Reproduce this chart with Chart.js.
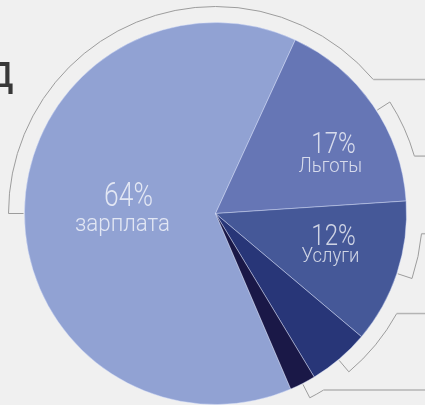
<!DOCTYPE html>
<html lang="ru">
<head>
<meta charset="utf-8">
<title>Структура расходов</title>
<script src="https://cdn.jsdelivr.net/npm/chart.js@4.4.0/dist/chart.umd.min.js"></script>
<style>
    html, body { margin: 0; padding: 0; background: #f0f0f0; }
    #wrap { position: relative; width: 425px; height: 405px; overflow: hidden; }
</style>
</head>
<body>
<div id="wrap"><canvas id="graficoPizza" width="425" height="405"></canvas></div>
<script>
// Dados (fatias no sentido horário a partir de "зарплата")
const categorias = ['зарплата', 'Льготы', 'Услуги', '', ''];
const valores = [63.3, 17.1, 12.2, 5.2, 2.2];
const rotulosPercentuais = ['64%', '17%', '12%'];
const cores = ['#91a2d3', '#6676b5', '#455898', '#283678', '#1a1847'];

// Posições dos textos relativas ao centro da pizza (dx, dy da linha de base, tamanho, escala)
const posRotulos = [
    { pct: [-87, -8, 33, 0.8], nome: [-93, 17, 24, 0.93] },
    { pct: [118, -61, 30, 0.8], nome: [115, -42, 21, 0.88] },
    { pct: [118, 31, 30, 0.8], nome: [115, 48, 21, 0.88] }
];

// Colchetes decorativos em volta da pizza (ângulos em graus, 0 = topo, sentido horário)
const colchetes = [
    { ini: -90, fim: 49.7 },
    { ini: 57.4, fim: 73.9 },
    { ini: 108.3, fim: 95.6 },
    { ini: 139.9, fim: 118.9 },
    { ini: 152.9, fim: 148.5 }
];

const FONTE = 'Roboto, "Noto Sans", sans-serif';

function textoCondensado(ctx, texto, x, y, tamanho, escala) {
    ctx.save();
    ctx.font = `300 ${tamanho}px ${FONTE}`;
    ctx.translate(x, y);
    ctx.scale(escala, 1);
    ctx.fillText(texto, 0, 0);
    ctx.restore();
}

const pluginDecoracao = {
    id: 'decoracao',
    beforeDraw(chart) {
        const ctx = chart.ctx;
        // Última letra do título cortado
        ctx.save();
        ctx.fillStyle = '#383838';
        ctx.font = `400 46px ${FONTE}`;
        ctx.textAlign = 'right';
        ctx.textBaseline = 'alphabetic';
        ctx.fillText('д', 14, 87);
        ctx.restore();
    },
    afterDatasetsDraw(chart) {
        const ctx = chart.ctx;
        const arco = chart.getDatasetMeta(0).data[0];
        const cx = arco.x, cy = arco.y, r = arco.outerRadius;
        const R = r + 16;
        const largura = chart.width;

        // Colchetes cinza
        ctx.save();
        colchetes.forEach(c => {
            const a = (c.ini - 90) * Math.PI / 180;
            const b = (c.fim - 90) * Math.PI / 180;
            ctx.strokeStyle = '#9c9c9c';
            ctx.lineWidth = 1;
            ctx.beginPath();
            ctx.moveTo(cx + (r + 1) * Math.cos(a), cy + (r + 1) * Math.sin(a));
            ctx.lineTo(cx + R * Math.cos(a), cy + R * Math.sin(a));
            ctx.arc(cx, cy, R, a, b, b < a);
            ctx.stroke();

            ctx.strokeStyle = '#b4b4b4';
            ctx.lineWidth = 1.5;
            ctx.beginPath();
            const yFim = cy + R * Math.sin(b);
            ctx.moveTo(cx + R * Math.cos(b), yFim);
            ctx.lineTo(largura, yFim);
            ctx.stroke();
        });
        ctx.restore();

        // Rótulos das fatias
        ctx.save();
        ctx.fillStyle = 'rgba(255, 255, 255, 0.74)';
        ctx.textAlign = 'center';
        ctx.textBaseline = 'alphabetic';
        rotulosPercentuais.forEach((pct, i) => {
            const p = posRotulos[i];
            textoCondensado(ctx, pct, cx + p.pct[0], cy + p.pct[1], p.pct[2], p.pct[3]);
            textoCondensado(ctx, categorias[i], cx + p.nome[0], cy + p.nome[1], p.nome[2], p.nome[3]);
        });
        ctx.restore();
    }
};

const ctxPizza = document.getElementById('graficoPizza').getContext('2d');
const chartPizza = new Chart(ctxPizza, {
    type: 'pie',
    data: {
        labels: categorias,
        datasets: [{
            data: valores,
            backgroundColor: cores,
            borderColor: 'rgba(215, 225, 250, 0.45)',
            borderWidth: 1,
            hoverOffset: 0
        }]
    },
    options: {
        responsive: false,
        animation: false,
        rotation: 156.8,
        layout: { padding: { left: 24, right: 18, top: 22, bottom: 0 } },
        plugins: {
            legend: { display: false },
            tooltip: { enabled: false }
        }
    },
    plugins: [pluginDecoracao]
});
</script>
</body>
</html>
